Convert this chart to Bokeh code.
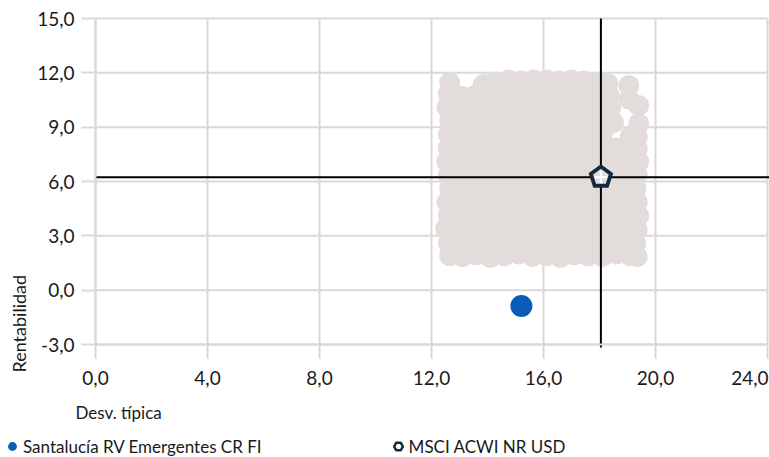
import math
from bokeh.plotting import figure
from bokeh.models import (Range1d, FixedTicker, Label, Legend, LegendItem)
from bokeh.embed import file_html
from bokeh.resources import INLINE

# ---------------- data ----------------
x_ticks = [0, 4, 8, 12, 16, 20, 24]
y_ticks = [-3, 0, 3, 6, 9, 12, 15]
x_tick_labels = ["0,0", "4,0", "8,0", "12,0", "16,0", "20,0", "24,0"]
y_tick_labels = ["-3,0", "0,0", "3,0", "6,0", "9,0", "12,0", "15,0"]

fund_name = "Santalucía RV Emergentes CR FI"
fund_std = [15.21]
fund_ret = [-0.87]

bench_name = "MSCI ACWI NR USD"
bench_std = [18.05]
bench_ret = [6.24]

# peer funds (desv. típica, rentabilidad), read row by row from the cloud
peer_std = [
    12.65, 13.85, 14.3, 14.75, 15.2, 15.65, 16.1, 16.55, 17.0, 17.45, 17.9, 18.3, 19.05,
    12.6, 13.1, 13.6, 14.1, 14.6, 15.1, 15.6, 16.1, 16.6, 17.1, 17.6, 18.05, 18.35, 19.05,
    12.55, 13.1, 13.6, 14.1, 14.6, 15.1, 15.6, 16.1, 16.6, 17.1, 17.6, 18.1, 18.4, 19.4,
    12.65, 13.1, 13.6, 14.1, 14.6, 15.1, 15.6, 16.1, 16.6, 17.1, 17.6, 18.1, 18.5, 19.4,
    12.6, 13.1, 13.6, 14.1, 14.6, 15.1, 15.6, 16.1, 16.6, 17.1, 17.6, 18.1, 19.1, 19.35,
    12.6, 13.1, 13.6, 14.1, 14.6, 15.1, 15.6, 16.1, 16.6, 17.1, 17.6, 18.1, 18.6, 19.1, 19.35,
    12.55, 13.1, 13.6, 14.1, 14.6, 15.1, 15.6, 16.1, 16.6, 17.1, 17.6, 18.1, 18.6, 19.1, 19.4,
    12.6, 13.1, 13.6, 14.1, 14.6, 15.1, 15.6, 16.1, 16.6, 17.1, 17.6, 18.1, 18.6, 19.1, 19.35,
    12.65, 13.1, 13.6, 14.1, 14.6, 15.1, 15.6, 16.1, 16.6, 17.1, 17.6, 18.1, 18.6, 19.1, 19.3,
    12.55, 13.1, 13.6, 14.1, 14.6, 15.1, 15.6, 16.1, 16.6, 17.1, 17.6, 18.1, 18.6, 19.1, 19.35,
    12.6, 13.1, 13.6, 14.1, 14.6, 15.1, 15.6, 16.1, 16.6, 17.1, 17.6, 18.1, 18.6, 19.1, 19.4,
    12.5, 13.1, 13.6, 14.1, 14.6, 15.1, 15.6, 16.1, 16.6, 17.1, 17.6, 18.1, 18.6, 19.1, 19.35,
    12.6, 13.1, 13.6, 14.1, 14.6, 15.1, 15.6, 16.1, 16.6, 17.1, 17.6, 18.1, 18.6, 19.1, 19.3,
    12.65, 13.1, 13.6, 14.1, 14.6, 15.1, 15.6, 16.1, 16.6, 17.1, 17.6, 18.1, 18.6, 19.1, 19.35,
]
peer_ret = [
    11.45, 11.35, 11.5, 11.6, 11.55, 11.6, 11.6, 11.55, 11.6, 11.55, 11.5, 11.4, 11.3,
    10.85, 10.7, 10.8, 10.85, 10.9, 10.8, 10.85, 10.9, 10.8, 10.85, 10.9, 10.8, 10.75, 10.55,
    10.1, 10.05, 10.1, 10.15, 10.1, 10.05, 10.1, 10.1, 10.15, 10.1, 10.05, 10.1, 10.0, 10.2,
    9.35, 9.4, 9.35, 9.3, 9.35, 9.4, 9.35, 9.3, 9.35, 9.4, 9.35, 9.3, 9.25, 9.2,
    8.6, 8.6, 8.65, 8.6, 8.55, 8.6, 8.65, 8.6, 8.6, 8.55, 8.6, 8.65, 8.5, 8.45,
    7.85, 7.9, 7.85, 7.8, 7.85, 7.9, 7.85, 7.8, 7.85, 7.9, 7.85, 7.8, 7.85, 7.9, 7.8,
    7.1, 7.1, 7.15, 7.1, 7.05, 7.1, 7.15, 7.1, 7.1, 7.05, 7.1, 7.15, 7.1, 7.05, 7.1,
    6.35, 6.4, 6.35, 6.3, 6.35, 6.4, 6.35, 6.3, 6.35, 6.4, 6.35, 6.3, 6.35, 6.4, 6.35,
    5.6, 5.6, 5.65, 5.6, 5.55, 5.6, 5.65, 5.6, 5.6, 5.55, 5.6, 5.65, 5.6, 5.55, 5.6,
    4.85, 4.9, 4.85, 4.8, 4.85, 4.9, 4.85, 4.8, 4.85, 4.9, 4.85, 4.8, 4.85, 4.9, 4.85,
    4.1, 4.1, 4.15, 4.1, 4.05, 4.1, 4.15, 4.1, 4.1, 4.05, 4.1, 4.15, 4.1, 4.05, 4.1,
    3.4, 3.35, 3.4, 3.35, 3.3, 3.35, 3.4, 3.35, 3.3, 3.35, 3.4, 3.35, 3.3, 3.35, 3.35,
    2.6, 2.65, 2.6, 2.55, 2.6, 2.65, 2.6, 2.55, 2.6, 2.65, 2.6, 2.55, 2.6, 2.65, 2.6,
    1.9, 1.85, 1.95, 1.8, 1.9, 2.0, 1.85, 1.9, 1.8, 1.95, 1.9, 1.85, 2.0, 1.9, 1.85,
]

x_label = "Desv. típica"
y_label = "Rentabilidad"

# ---------------- style / layout ----------------
FONT = "Lato"
TXT = "#1A1A1A"
GRID = "#D9D9D9"
CLOUD = "#E2DDDB"
BLUE = "#0B5CB8"
NAVY = "#14293D"

W, H = 769, 457
PAD_L, PAD_R, PAD_T, PAD_B = 95, 2, 18, 113   # pixel room around the plotting area
x_start, x_end = x_ticks[0], x_ticks[-1]
y_start, y_end = y_ticks[0], y_ticks[-1]
px_x = (W - PAD_L - PAD_R) / (x_end - x_start)
px_y = (H - PAD_T - PAD_B) / (y_end - y_start)

p = figure(width=W, height=H, output_backend="svg", toolbar_location=None,
           x_range=Range1d(x_start - PAD_L / px_x, x_end + PAD_R / px_x),
           y_range=Range1d(y_start - PAD_B / px_y, y_end + PAD_T / px_y),
           min_border=0)
p.outline_line_color = None
p.background_fill_color = "white"
p.border_fill_color = "white"
p.xgrid.visible = False
p.ygrid.visible = False

# axes pinned to the data box
p.xaxis.fixed_location = y_start
p.yaxis.fixed_location = x_start
p.xaxis.bounds = (x_start, x_end)
p.yaxis.bounds = (y_start, y_end)
p.xaxis.ticker = FixedTicker(ticks=x_ticks)
p.yaxis.ticker = FixedTicker(ticks=y_ticks)
x_over = {t: s for t, s in zip(x_ticks, x_tick_labels)}
x_over[x_ticks[-1]] = ""          # last label drawn shifted inside, as in the original
p.xaxis.major_label_overrides = x_over
p.yaxis.major_label_overrides = {t: s for t, s in zip(y_ticks, y_tick_labels)}

for ax in (p.xaxis, p.yaxis):
    ax.axis_line_color = GRID
    ax.axis_line_width = 2
    ax.major_tick_line_color = GRID
    ax.major_tick_line_width = 2
    ax.major_tick_out = 14
    ax.major_tick_in = 0
    ax.minor_tick_line_color = None
    ax.major_label_text_font = FONT
    ax.major_label_text_font_size = "19px"
    ax.major_label_text_color = TXT
p.xaxis.major_label_standoff = 12
p.yaxis.major_label_standoff = 7

# grid lines (bounded to the data box)
p.segment(x0=x_ticks, y0=[y_start] * len(x_ticks), x1=x_ticks, y1=[y_end] * len(x_ticks),
          line_color=GRID, line_width=2)
p.segment(x0=[x_start] * len(y_ticks), y0=y_ticks, x1=[x_end] * len(y_ticks), y1=y_ticks,
          line_color=GRID, line_width=2)

# peers cloud
p.scatter(peer_std, peer_ret, size=21, fill_color=CLOUD, line_color=None)

# fund
fund_r = p.scatter(fund_std, fund_ret, size=22, fill_color=BLUE, line_color=None)

# benchmark crosshair
p.line([x_start, x_end + PAD_R / px_x], [bench_ret[0], bench_ret[0]], line_color="black", line_width=2)
p.line([bench_std[0], bench_std[0]], [y_start - 3 / px_y, y_end], line_color="black", line_width=2)

# benchmark legend marker (hidden under the pentagon)
bench_leg = p.scatter(bench_std, bench_ret, marker="hex", size=8,
                      fill_color="white", line_color=NAVY, line_width=2.5)

# benchmark pentagon
R = 10.6
pent_x = [bench_std[0] + R * math.cos(math.radians(90 + 72 * k)) / px_x for k in range(5)]
pent_y = [bench_ret[0] + R * math.sin(math.radians(90 + 72 * k)) / px_y for k in range(5)]
p.patch(pent_x, pent_y, fill_color=CLOUD, line_color=NAVY, line_width=3.8, line_join="miter")
c = 6.0
p.segment(x0=[bench_std[0] - c / px_x, bench_std[0]],
          y0=[bench_ret[0], bench_ret[0] - c / px_y],
          x1=[bench_std[0] + c / px_x, bench_std[0]],
          y1=[bench_ret[0], bench_ret[0] + c / px_y],
          line_color="white", line_width=2)

# last x tick label, right-aligned at the edge
p.add_layout(Label(x=x_end + 1 / px_x, y=y_start - 26 / px_y, text=x_tick_labels[-1],
                   text_align="right", text_baseline="top",
                   text_font=FONT, text_font_size="19px", text_color=TXT))

# axis titles
p.add_layout(Label(x=x_start - 20 / px_x, y=y_start - 68 / px_y, text=x_label,
                   text_align="left", text_baseline="middle",
                   text_font=FONT, text_font_size="17px", text_color=TXT))
p.add_layout(Label(x=x_start - 77 / px_x, y=y_start - 28 / px_y, text=y_label,
                   angle=90, angle_units="deg",
                   text_align="left", text_baseline="middle",
                   text_font=FONT, text_font_size="18px", text_color=TXT))

# legend at the bottom
legend = Legend(items=[LegendItem(label=fund_name, renderers=[fund_r]),
                       LegendItem(label=bench_name, renderers=[bench_leg])],
                location=(1, 0), orientation="horizontal",
                padding=0, margin=0, spacing=125, label_standoff=0,
                glyph_width=22, glyph_height=22,
                label_text_font=FONT, label_text_font_size="17px",
                label_text_color=TXT, background_fill_alpha=0,
                border_line_alpha=0)
p.add_layout(legend)

open("out.html", "w").write(file_html(p, INLINE))
